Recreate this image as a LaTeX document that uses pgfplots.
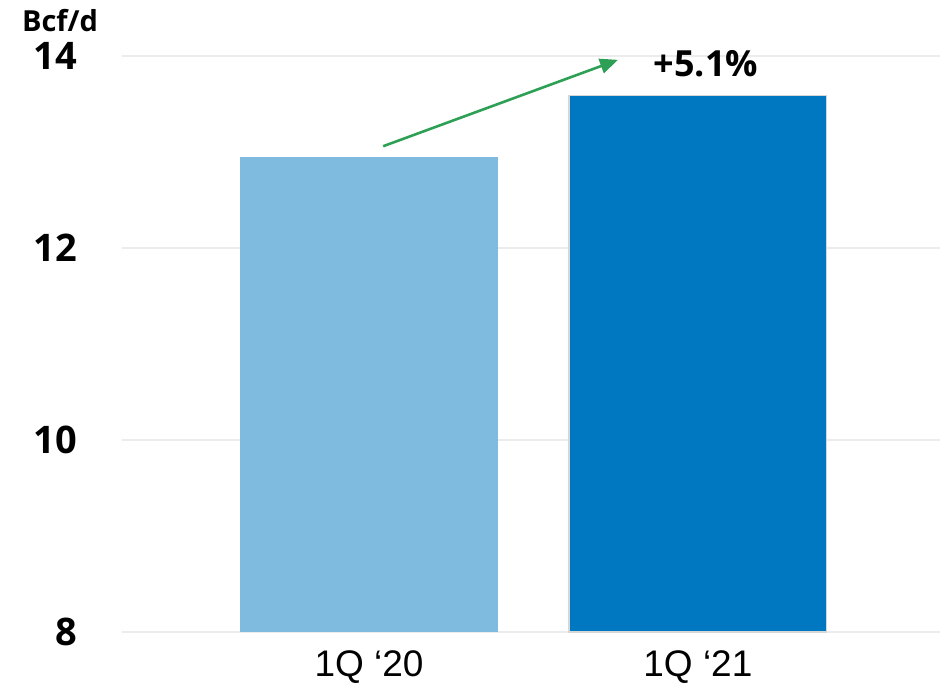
\documentclass[border=0pt]{standalone}
\usepackage{fontspec}
\setmainfont{Liberation Sans}
\newfontfamily\numfont{Open Sans}
\usepackage{pgfplots}
\pgfplotsset{compat=1.18}
\usetikzlibrary{arrows.meta}

\definecolor{barlight}{RGB}{127,186,223}
\definecolor{bardark}{RGB}{0,120,193}
\definecolor{arrowgreen}{RGB}{46,160,86}
\definecolor{gridgray}{RGB}{236,236,236}

\begin{document}
\begin{tikzpicture}
\useasboundingbox (0,0) rectangle (470pt,344.5pt);
\begin{axis}[
  at={(61pt,28.5pt)}, anchor=south west,
  scale only axis, width=409pt, height=288pt,
  xmin=-0.751, xmax=1.736,
  ymin=8, ymax=14,
  ytick={8,10,12,14},
  xtick={0,1},
  xticklabels={1Q ‘20, 1Q ‘21},
  axis line style={draw=none},
  major tick length=0pt,
  ymajorgrids,
  y grid style={gridgray, line width=1pt},
  /pgf/number format/assume math mode=true,
  yticklabel style={font=\numfont\bfseries\fontsize{19}{21}\selectfont, xshift=-19pt},
  xticklabel style={font=\fontsize{18.5}{21}\selectfont, yshift=-6pt},
  clip=false,
]
\addplot[ybar, bar width=0.784, bar shift=0pt, fill=barlight, draw=none] coordinates {(0,12.95)};
\addplot[ybar, bar width=0.784, bar shift=0pt, fill=bardark, draw={rgb,255:red,215;green,215;blue,215}, line width=0.6pt] coordinates {(1,13.59)};
\draw[arrowgreen, line width=1.3pt, -{Triangle[length=9pt,width=7.5pt]}] (axis cs:0.043,13.06) -- (axis cs:0.757,13.96);
\node[font=\numfont\bfseries\fontsize{18}{20}\selectfont] at (axis cs:1.024,13.92) {+5.1\%};
\end{axis}
\node[font=\numfont\bfseries\fontsize{14.5}{16}\selectfont] at (30pt,334pt) {Bcf/d};
\end{tikzpicture}
\end{document}
